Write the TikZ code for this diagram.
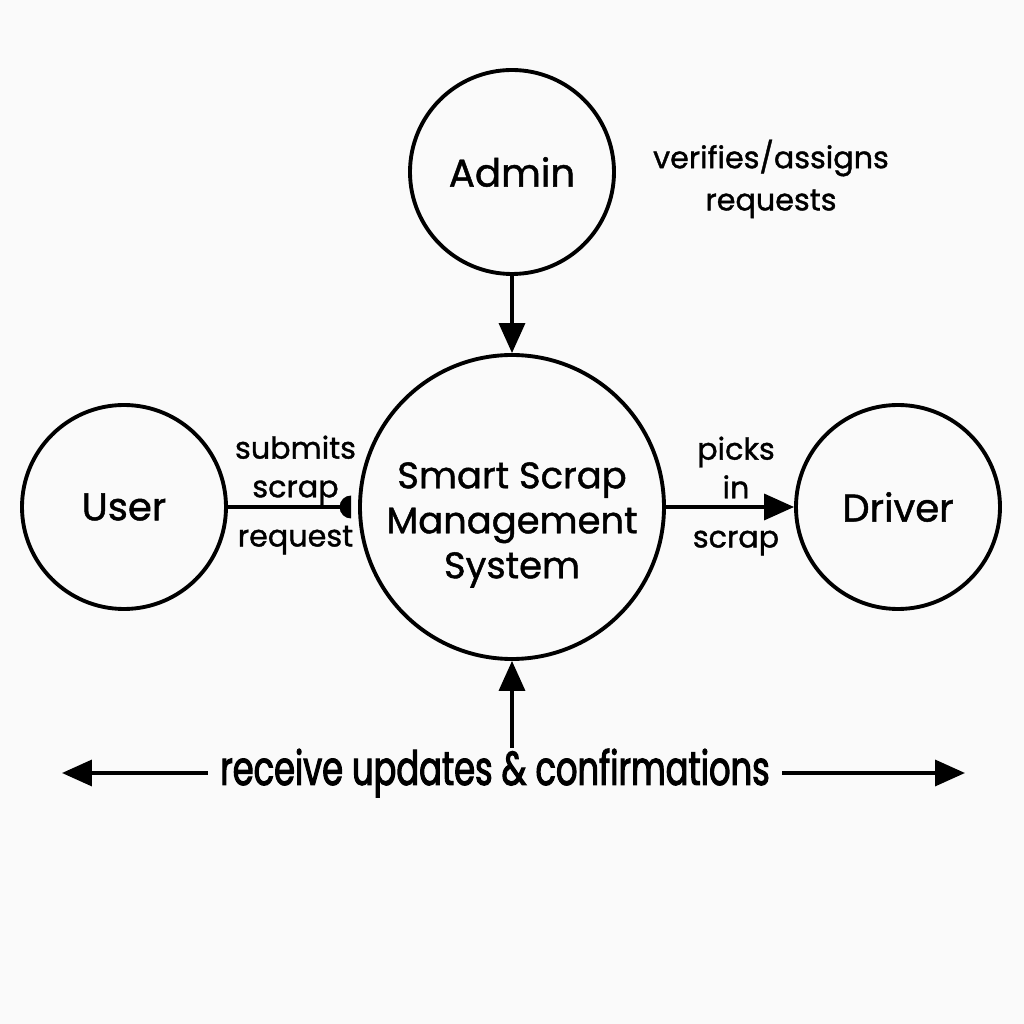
\documentclass[tikz,border=0pt]{standalone}
\usepackage{fontspec}
\setmainfont[FakeBold=1.2]{Poppins}
\newfontfamily\condfont[FakeStretch=0.71, FakeBold=2.2]{Poppins}
\usepackage{tikz}
\usetikzlibrary{arrows.meta, positioning}

\begin{document}
\begin{tikzpicture}[
    entity/.style={draw, circle, line width=1.1pt, minimum size=2.04cm, inner sep=0pt, font=\fontsize{11}{13}\selectfont},
    flow/.style={line width=1pt, -{Triangle[length=3mm, width=2.6mm]}},
    flowlabel/.style={font=\fontsize{8.6}{11}\selectfont, align=center}
  ]
  \useasboundingbox[fill=black!2] (0,0) rectangle (10.24,10.24);

  % Entities
  \node[entity] (admin) at (5.12, 8.52) {Admin};
  \node[entity, minimum size=3.04cm, label={[align=center, yshift=-1.8mm, font=\fontsize{10.5}{12.8}\selectfont]center:Smart Scrap\\Management\\System}] (system) at (5.12, 5.17) {};
  \node[entity] (user) at (1.24, 5.17) {User};
  \node[entity] (driver) at (8.98, 5.17) {Driver};

  % Flows
  \node[flowlabel] (verify) at (7.71, 8.45) {verifies/assigns\\[1pt]requests};
  \draw[flow] (admin) -- (system);
  \coordinate (subend) at ([xshift=-0.7mm]system.west);
  \draw[line width=1pt] (user) -- node[flowlabel, yshift=1.2mm, xshift=0.6mm] {submits\\scrap\\[3pt]request} (subend);
  \begin{scope}
    \clip (user.south) rectangle (subend |- user.north);
    \fill (subend) circle (1.15mm);
  \end{scope}
  \draw[flow] (system) -- node[flowlabel, yshift=1.1mm, xshift=0.6mm] {picks\\in\\[3pt]scrap} (driver);

  % Updates
  \coordinate (updsrc) at (5.12, 2.76);
  \draw[flow] (updsrc) -- (system);
  \node[font=\condfont\fontsize{13.5}{15}\selectfont, inner sep=1.2mm] (updates) at (4.95, 2.51) {receive updates \& confirmations};
  \coordinate (upleft) at (0.62, 2.51);
  \coordinate (upright) at (9.65, 2.51);
  \draw[flow] (updates) -- (upleft);
  \draw[flow] (updates) -- (upright);
\end{tikzpicture}
\end{document}
